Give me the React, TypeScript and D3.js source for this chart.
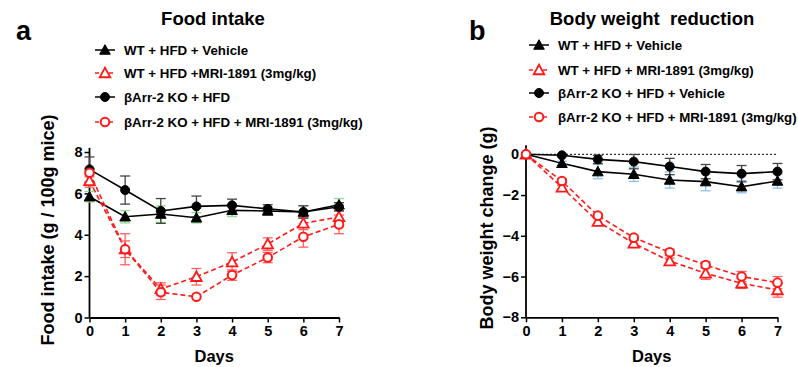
import React, { useRef, useEffect } from 'react';
import * as d3 from 'd3';

const days = [0, 1, 2, 3, 4, 5, 6, 7];

// Food intake (g / 100g mice)
const foodWtVeh = [5.84, 4.87, 5.0, 4.82, 5.18, 5.15, 5.1, 5.45];
const foodWtVehErr = [0.25, 0.3, 0.4, 0.25, 0.3, 0.15, 0.3, 0.3];
const foodWtMri = [6.6, 3.3, 1.38, 1.97, 2.68, 3.55, 4.55, 4.86];
const foodWtMriErr = [0.3, 0.4, 0.3, 0.4, 0.45, 0.3, 0.3, 0.3];
const foodKo = [7.16, 6.16, 5.15, 5.37, 5.42, 5.25, 5.1, 5.35];
const foodKoErr = [0.6, 0.68, 0.6, 0.5, 0.3, 0.2, 0.3, 0.2];
const foodKoMri = [7.0, 3.3, 1.22, 1.0, 2.05, 2.9, 3.9, 4.5];
const foodKoMriErr = [0.2, 0.75, 0.35, 0, 0.25, 0.25, 0.5, 0.45];

// Body weight change (g)
const bwWtVeh = [0, -0.44, -0.85, -0.98, -1.26, -1.34, -1.59, -1.31];
const bwWtVehErr = [0, 0.1, 0.35, 0.35, 0.4, 0.45, 0.3, 0.35];
const bwWtMri = [0, -1.62, -3.3, -4.37, -5.24, -5.84, -6.33, -6.66];
const bwWtMriErr = [0, 0.1, 0.15, 0.15, 0.15, 0.3, 0.25, 0.35];
const bwKo = [0, -0.05, -0.25, -0.36, -0.6, -0.85, -0.95, -0.85];
const bwKoErr = [0, 0.05, 0.2, 0.35, 0.4, 0.35, 0.4, 0.4];
const bwKoMri = [0, -1.31, -3.01, -4.09, -4.81, -5.43, -6.0, -6.3];
const bwKoMriErr = [0, 0.1, 0.1, 0.1, 0.15, 0.15, 0.25, 0.3];

const foodTicks = [0, 2, 4, 6, 8];
const bwTicks = [0, -2, -4, -6, -8];

const legendA = ['WT + HFD + Vehicle', 'WT + HFD +MRI-1891 (3mg/kg)', 'βArr-2 KO + HFD', 'βArr-2 KO + HFD + MRI-1891 (3mg/kg)'];
const legendB = ['WT + HFD + Vehicle', 'WT + HFD + MRI-1891 (3mg/kg)', 'βArr-2 KO + HFD + Vehicle', 'βArr-2 KO + HFD + MRI-1891 (3mg/kg)'];

const FONT = 'Liberation Sans, Arial, sans-serif';
const RED = '#ff1a1a';

type Kind = 'triFill' | 'triOpen' | 'dotFill' | 'dotOpen';

function drawMarker(g: any, kind: Kind, cx: number, cy: number) {
  if (kind === 'dotFill' || kind === 'dotOpen') {
    g.append('circle')
      .attr('cx', cx).attr('cy', cy)
      .attr('r', kind === 'dotFill' ? 4.5 : 4.3)
      .attr('fill', kind === 'dotFill' ? 'black' : 'white')
      .attr('stroke', kind === 'dotFill' ? 'black' : RED)
      .attr('stroke-width', kind === 'dotFill' ? 1 : 2);
  } else {
    const s = 5.3;
    g.append('path')
      .attr('d', `M${cx},${cy - s}L${cx + s},${cy + s * 0.8}L${cx - s},${cy + s * 0.8}Z`)
      .attr('fill', kind === 'triFill' ? 'black' : 'white')
      .attr('stroke', kind === 'triFill' ? 'black' : RED)
      .attr('stroke-width', kind === 'triFill' ? 1 : 1.8);
  }
}

export default function App() {
  const svgRef = useRef<SVGSVGElement>(null);

  useEffect(() => {
    const svg = d3.select(svgRef.current);
    svg.selectAll('*').remove();

    const panel = (opts: any) => {
      const { x, y, series, ticks, yLabel, title, titleX, letter, letterX, legend, legendX, legendY, zeroLine, yTop } = opts;
      const g = svg.append('g');

      // title + panel letter
      g.append('text').attr('x', titleX).attr('y', 25).attr('text-anchor', 'middle')
        .style('white-space', 'pre')
        .attr('font-family', FONT).attr('font-weight', 'bold').attr('font-size', 18.5).text(title);
      g.append('text').attr('x', letterX).attr('y', 40)
        .attr('font-family', FONT).attr('font-weight', 'bold').attr('font-size', 27).text(letter);

      // legend
      legend.forEach((label: string, i: number) => {
        const s = series[i];
        const ly = legendY[i];
        g.append('line').attr('x1', legendX).attr('x2', legendX + 20).attr('y1', ly).attr('y2', ly)
          .attr('stroke', s.color).attr('stroke-width', 1.5)
          .attr('stroke-dasharray', s.dashed ? '4,3' : null);
        drawMarker(g, s.kind, legendX + 10, ly);
        g.append('text').attr('x', legendX + 29).attr('y', ly).attr('dy', '0.35em')
          .attr('font-family', FONT).attr('font-weight', 'bold').attr('font-size', 13.3).text(label);
      });

      const [x0, x1] = x.range();
      const [yb] = y.range();

      // x axis
      g.append('g').attr('transform', `translate(0,${yb})`)
        .call(d3.axisBottom(x).tickValues(days).tickFormat(d3.format('d')).tickSize(5).tickSizeOuter(0).tickPadding(3))
        .call((a: any) => a.select('.domain').attr('stroke-width', 1.8))
        .call((a: any) => a.selectAll('.tick line').attr('stroke-width', 1.5))
        .call((a: any) => a.selectAll('.tick text').attr('font-size', 14.5).attr('font-weight', 'bold')
          .attr('font-family', FONT).attr('fill', 'black'));

      // y axis
      g.append('g').attr('transform', `translate(${x0},0)`)
        .call(d3.axisLeft(y).tickValues(ticks).tickFormat(d3.format('d')).tickSize(5).tickSizeOuter(0).tickPadding(2))
        .call((a: any) => a.select('.domain').remove())
        .call((a: any) => a.selectAll('.tick line').attr('stroke-width', 1.5))
        .call((a: any) => a.selectAll('.tick text').attr('font-size', 14.5).attr('font-weight', 'bold')
          .attr('font-family', FONT).attr('fill', 'black'));
      g.append('line').attr('x1', x0).attr('x2', x0).attr('y1', yb).attr('y2', y(yTop))
        .attr('stroke', 'black').attr('stroke-width', 1.8);

      // axis titles
      g.append('text').attr('x', (x0 + x1) / 2).attr('y', 362).attr('text-anchor', 'middle')
        .attr('font-family', FONT).attr('font-weight', 'bold').attr('font-size', 16.5).text('Days');
      g.append('text').attr('transform', `translate(${opts.yLabelX},${opts.yLabelY}) rotate(-90)`)
        .attr('text-anchor', 'middle').attr('dy', '0.35em')
        .attr('font-family', FONT).attr('font-weight', 'bold').attr('font-size', 18).text(yLabel);

      if (zeroLine) {
        g.append('line').attr('x1', x0).attr('x2', x1).attr('y1', y(0)).attr('y2', y(0))
          .attr('stroke', 'black').attr('stroke-width', 1).attr('stroke-dasharray', '2,2');
      }

      const line = d3.line<number>().x((_, i) => x(days[i])).y(d => y(d));

      // lines
      series.forEach((s: any) => {
        g.append('path').datum(s.values).attr('fill', 'none').attr('stroke', s.color)
          .attr('stroke-width', 1.6).attr('stroke-dasharray', s.dashed ? '5,3' : null).attr('d', line);
      });

      // error bars
      series.forEach((s: any) => {
        const eg = g.append('g').attr('stroke', s.errColor).attr('stroke-width', 1.3);
        s.values.forEach((v: number, i: number) => {
          const e = s.errors[i];
          if (!e) return;
          const cx = x(days[i]);
          eg.append('line').attr('x1', cx).attr('x2', cx).attr('y1', y(v - e)).attr('y2', y(v + e));
          [v - e, v + e].forEach(w => {
            eg.append('line').attr('x1', cx - 5).attr('x2', cx + 5).attr('y1', y(w)).attr('y2', y(w));
          });
        });
      });

      // markers
      series.forEach((s: any) => {
        s.values.forEach((v: number, i: number) => drawMarker(g, s.kind, x(days[i]), y(v)));
      });
    };

    const xA = d3.scaleLinear().domain([0, 7]).range([89.5, 339]);
    const yA = d3.scaleLinear().domain([0, 8]).range([317.5, 152]);
    panel({
      x: xA, y: yA, ticks: foodTicks, yTop: 8.2,
      title: 'Food intake', titleX: 213, letter: 'a', letterX: 16,
      yLabel: 'Food intake (g / 100g mice)', yLabelX: 48, yLabelY: 230,
      legend: legendA, legendX: 95, legendY: [50, 73, 97, 122],
      series: [
        { values: foodWtVeh, errors: foodWtVehErr, color: 'black', errColor: '#8ee08e', kind: 'triFill' },
        { values: foodWtMri, errors: foodWtMriErr, color: RED, errColor: '#ff6060', kind: 'triOpen', dashed: true },
        { values: foodKo, errors: foodKoErr, color: 'black', errColor: '#444', kind: 'dotFill' },
        { values: foodKoMri, errors: foodKoMriErr, color: RED, errColor: '#ff6060', kind: 'dotOpen', dashed: true },
      ],
    });

    const xB = d3.scaleLinear().domain([0, 7]).range([526, 777.5]);
    const yB = d3.scaleLinear().domain([-8, 0]).range([317.3, 154.3]);
    panel({
      x: xB, y: yB, ticks: bwTicks, yTop: 0.45, zeroLine: true,
      title: 'Body weight  reduction', titleX: 652, letter: 'b', letterX: 469,
      yLabel: 'Body weight change (g)', yLabelX: 487, yLabelY: 228,
      legend: legendB, legendX: 529, legendY: [45, 70, 93, 117],
      series: [
        { values: bwWtVeh, errors: bwWtVehErr, color: 'black', errColor: '#8fbfee', kind: 'triFill' },
        { values: bwWtMri, errors: bwWtMriErr, color: RED, errColor: '#ff6060', kind: 'triOpen', dashed: true },
        { values: bwKo, errors: bwKoErr, color: 'black', errColor: '#444', kind: 'dotFill' },
        { values: bwKoMri, errors: bwKoMriErr, color: RED, errColor: '#ff6060', kind: 'dotOpen', dashed: true },
      ],
    });
  }, []);

  return (
    <svg ref={svgRef} width={798} height={367}
      style={{ position: 'absolute', left: 0, top: 0, background: 'white' }} />
  );
}
